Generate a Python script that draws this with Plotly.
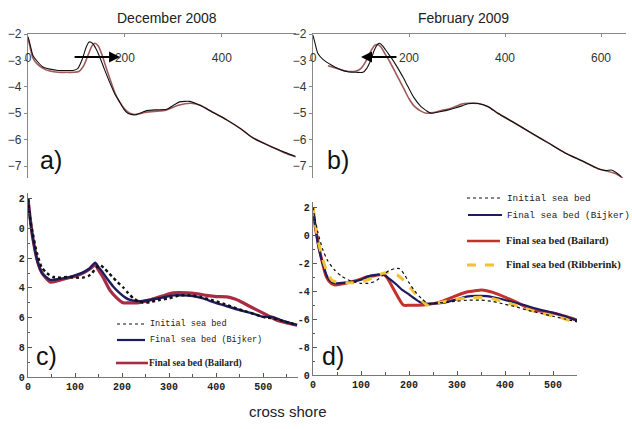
import plotly.graph_objects as go

W, H = 632, 429

# ---------------- data ----------------
# Panel a (December 2008) - measured profiles
a_black_x = [0, 5, 10, 20, 31, 45, 62, 80, 93, 103, 112, 120, 126, 133, 140, 148, 158, 169, 180, 190, 198, 206, 215, 224, 235, 245, 265, 286, 300, 313, 334, 355, 380, 410, 440, 464, 500, 530, 551]
a_black_y = [-2.1, -2.45, -2.8, -3.05, -3.25, -3.33, -3.38, -3.38, -3.38, -3.3, -2.95, -2.5, -2.3, -2.35, -2.55, -2.87, -3.35, -3.85, -4.3, -4.6, -4.85, -5.0, -5.05, -5.05, -4.97, -4.9, -4.87, -4.85, -4.7, -4.57, -4.55, -4.7, -4.95, -5.25, -5.6, -5.93, -6.25, -6.48, -6.63]
a_red_x = [0, 5, 10, 20, 31, 45, 62, 80, 95, 105, 115, 125, 132, 138, 145, 152, 160, 170, 180, 190, 200, 210, 220, 230, 240, 260, 285, 310, 335, 355, 380, 410, 440, 464, 500, 530, 553]
a_red_y = [-2.15, -2.55, -2.9, -3.15, -3.3, -3.4, -3.45, -3.45, -3.45, -3.42, -3.2, -2.75, -2.45, -2.35, -2.45, -2.75, -3.2, -3.75, -4.25, -4.6, -4.85, -5.0, -5.05, -5.02, -4.97, -4.93, -4.88, -4.7, -4.62, -4.7, -4.95, -5.25, -5.6, -5.93, -6.25, -6.5, -6.65]

# Panel b (February 2009)
b_black_x = [0, 5, 10, 20, 38, 55, 73, 90, 104, 112, 120, 128, 134, 139, 145, 155, 165, 177, 188, 198, 210, 225, 236, 246, 256, 267, 280, 296, 310, 323, 344, 365, 385, 420, 455, 490, 525, 560, 594, 610, 621, 632, 642]
b_black_y = [-2.05, -2.4, -2.73, -2.95, -3.17, -3.33, -3.43, -3.45, -3.45, -3.3, -3.0, -2.6, -2.4, -2.35, -2.45, -2.7, -2.95, -3.3, -3.65, -4.0, -4.4, -4.75, -4.9, -5.0, -4.97, -4.93, -4.88, -4.8, -4.72, -4.64, -4.63, -4.75, -5.0, -5.37, -5.75, -6.12, -6.5, -6.8, -7.1, -7.17, -7.15, -7.25, -7.4]
b_red_x = [31, 45, 60, 75, 90, 100, 108, 115, 122, 129, 135, 142, 150, 160, 170, 180, 190, 200, 212, 225, 236, 246, 256, 267, 280, 296, 310, 323, 344, 365, 385, 420, 455, 490, 525, 560, 594, 615, 632, 645]
b_red_y = [-3.2, -3.28, -3.36, -3.42, -3.4, -3.3, -3.1, -2.85, -2.6, -2.42, -2.4, -2.5, -2.75, -3.05, -3.4, -3.75, -4.1, -4.45, -4.75, -4.92, -5.0, -4.98, -4.95, -4.9, -4.85, -4.75, -4.65, -4.62, -4.63, -4.75, -5.0, -5.37, -5.75, -6.12, -6.5, -6.8, -7.1, -7.2, -7.3, -7.45]

# Panel c (December 2008 model)
c_init_x = [0, 5, 10, 19, 29, 40, 54, 70, 83, 100, 117, 128, 136, 145, 153, 163, 172, 181, 190, 202, 213, 224, 235, 245, 260, 281, 300, 323, 345, 366, 390, 415, 437, 460, 480, 500, 520, 545, 572]
c_init_y = [2.0, 0.6, -0.3, -1.65, -2.6, -3.0, -3.26, -3.3, -3.26, -3.3, -3.3, -3.2, -3.0, -2.65, -2.45, -2.7, -3.0, -3.3, -3.6, -3.95, -4.35, -4.7, -4.9, -5.0, -4.95, -4.8, -4.7, -4.5, -4.5, -4.6, -4.8, -5.05, -5.3, -5.55, -5.75, -5.95, -6.05, -6.25, -6.5]
c_bijker_x = [0, 5, 10, 20, 30, 47, 65, 83, 100, 117, 130, 143, 150, 160, 170, 181, 195, 207, 217, 236, 260, 285, 309, 330, 350, 372, 394, 420, 451, 475, 500, 520, 540, 572]
c_bijker_y = [2.0, 0.5, -0.6, -2.2, -3.0, -3.45, -3.4, -3.3, -3.15, -2.95, -2.7, -2.3, -2.6, -3.0, -3.45, -3.9, -4.35, -4.65, -4.8, -4.9, -4.8, -4.65, -4.5, -4.5, -4.55, -4.7, -4.95, -5.2, -5.5, -5.7, -5.95, -5.95, -6.2, -6.5]
c_bailard_x = [0, 5, 10, 21, 30, 47, 65, 83, 100, 117, 130, 143, 150, 160, 174, 188, 202, 215, 231, 260, 285, 309, 338, 360, 380, 400, 423, 440, 451, 475, 500, 515, 529, 550, 572]
c_bailard_y = [2.0, 0.6, -0.6, -2.3, -3.0, -3.6, -3.5, -3.34, -3.2, -3.0, -2.75, -2.45, -2.8, -3.3, -4.15, -4.65, -5.0, -5.0, -5.0, -4.8, -4.55, -4.33, -4.33, -4.4, -4.5, -4.58, -4.6, -4.75, -4.9, -5.3, -5.7, -5.95, -6.17, -6.35, -6.5]

# Panel d (February 2009 model)
d_init_x = [0, 5, 10, 20, 30, 45, 60, 80, 100, 115, 130, 145, 158, 170, 180, 190, 200, 212, 225, 240, 260, 280, 300, 325, 350, 375, 400, 425, 450, 475, 500, 525, 550]
d_init_y = [2.0, 1.0, 0.2, -1.0, -1.8, -2.5, -2.95, -3.3, -3.45, -3.45, -3.3, -2.9, -2.55, -2.4, -2.4, -2.8, -3.4, -4.0, -4.5, -4.9, -4.85, -4.8, -4.72, -4.65, -4.65, -4.75, -4.95, -5.15, -5.4, -5.6, -5.8, -6.0, -6.2]
d_bijker_x = [0, 5, 10, 20, 30, 40, 50, 65, 80, 100, 115, 130, 146, 160, 175, 185, 196, 210, 223, 243, 270, 300, 320, 340, 362, 390, 417, 440, 458, 480, 500, 525, 550]
d_bijker_y = [2.0, 0.6, -0.6, -2.0, -3.0, -3.4, -3.45, -3.4, -3.35, -3.2, -2.95, -2.85, -2.8, -3.15, -3.57, -3.9, -4.15, -4.5, -4.8, -4.9, -4.85, -4.6, -4.4, -4.35, -4.36, -4.55, -4.8, -5.0, -5.2, -5.4, -5.55, -5.8, -6.1]
d_bailard_x = [0, 5, 10, 15, 28, 38, 46, 60, 77, 95, 112, 130, 146, 152, 157, 170, 188, 200, 229, 250, 264, 290, 320, 340, 351, 375, 404, 430, 458, 480, 500, 525, 550]
d_bailard_y = [2.0, 0.5, -0.4, -1.3, -3.0, -3.45, -3.57, -3.5, -3.36, -3.2, -3.0, -2.9, -2.8, -2.95, -3.2, -4.0, -5.0, -5.02, -5.0, -4.9, -4.79, -4.45, -4.07, -3.97, -3.93, -4.1, -4.5, -4.9, -5.36, -5.45, -5.57, -5.8, -6.07]
d_ribb_x = [0, 5, 10, 20, 30, 40, 55, 70, 90, 110, 130, 145, 160, 175, 188, 202, 216, 230, 237, 260, 290, 320, 350, 375, 400, 430, 460, 490, 520, 550]
d_ribb_y = [2.0, 0.8, -0.3, -1.7, -2.7, -3.25, -3.4, -3.4, -3.4, -3.25, -3.0, -2.75, -2.65, -2.85, -3.2, -3.75, -4.3, -4.8, -5.0, -4.85, -4.65, -4.5, -4.45, -4.55, -4.8, -5.1, -5.45, -5.7, -5.95, -6.3]

# tick labels
ab_y_ticks = [-2, -3, -4, -5, -6, -7]
a_x_ticks = [0, 200, 400]
b_x_ticks = [0, 200, 400, 600]
cd_y_vals = [2, 0, -2, -4, -6, -8, -10]
c_y_text = ["2", "0", "2", "4", "6", "8", "0"]
d_y_text = ["2", "0", "-2", "-4", "-6", "-8", "0"]
cd_x_ticks = [0, 100, 200, 300, 400, 500]

legend_c = ["Initial sea bed", "Final sea bed (Bijker)", "Final sea bed (Bailard)"]
legend_d = ["Initial sea bed", "Final sea bed (Bijker)", "Final sea bed (Bailard)", "Final sea bed (Ribberink)"]

# ---------------- styles ----------------
BLACK = "#111111"
PINK = "#a05a5a"
NAVY = "#1c1c5e"
RED_C = "#a82c44"
RED_D = "#c4302c"
YEL = "#f2c234"


def px(x):
    return x / W


def py(y):
    return 1 - y / H


fig = go.Figure()


def add(x, y, xa, ya, color, width, dash="solid"):
    fig.add_trace(go.Scatter(x=x, y=y, xaxis=xa, yaxis=ya, mode="lines",
                             line=dict(color=color, width=width, dash=dash, shape="spline", smoothing=0.6),
                             showlegend=False, hoverinfo="skip"))


add(a_red_x, a_red_y, "x", "y", PINK, 1.6)
add(a_black_x, a_black_y, "x", "y", BLACK, 1.1)
add(b_red_x, b_red_y, "x2", "y2", PINK, 1.6)
add(b_black_x, b_black_y, "x2", "y2", BLACK, 1.1)

add(c_bailard_x, c_bailard_y, "x3", "y3", RED_C, 3.2)
add(c_bijker_x, c_bijker_y, "x3", "y3", NAVY, 2.4)
add(c_init_x, c_init_y, "x3", "y3", BLACK, 2.4, "dot")

add(d_bailard_x, d_bailard_y, "x4", "y4", RED_D, 3.0)
add(d_bijker_x, d_bijker_y, "x4", "y4", NAVY, 2.2)
add(d_ribb_x, d_ribb_y, "x4", "y4", YEL, 3.0, "dash")
add(d_init_x, d_init_y, "x4", "y4", BLACK, 1.2, "dot")

# empty traces so the label-only overlay axes get drawn
fig.add_trace(go.Scatter(x=[None], y=[None], xaxis="x5", yaxis="y", showlegend=False, hoverinfo="skip"))
fig.add_trace(go.Scatter(x=[None], y=[None], xaxis="x6", yaxis="y2", showlegend=False, hoverinfo="skip"))

AXC = "#888888"
tf_ab = dict(family="Arial, Liberation Sans, sans-serif", size=12, color="#333333")
tf_cd = dict(family="Liberation Mono, DejaVu Sans Mono, monospace", size=10, color="#222222", weight="bold")

top_x = dict(side="top", showline=True, linecolor=AXC, linewidth=1.3, ticks="inside", ticklen=3,
             tickcolor=AXC, showticklabels=False, showgrid=False, zeroline=False, automargin=False)
lab_x = dict(side="bottom", showline=False, ticks="", showgrid=False, zeroline=False,
             tickfont=tf_ab, automargin=False, anchor="free", position=py(49))
ab_y = dict(showline=True, linecolor=AXC, linewidth=1.3, ticks="outside", ticklen=3, tickcolor=AXC,
            tickvals=ab_y_ticks, range=[-7.45, -2], showgrid=False, zeroline=False, tickfont=tf_ab,
            automargin=False)

cd_x = dict(showline=True, linecolor="#777777", linewidth=1.3, ticks="inside", ticklen=4, tickcolor="#555555",
            tickvals=cd_x_ticks, minor=dict(dtick=50, tick0=0, ticks="inside", ticklen=3, tickcolor="#555555"),
            showgrid=False, zeroline=False, tickfont=tf_cd, automargin=False)
cd_y = dict(showline=True, linecolor="#777777", linewidth=1.3, ticks="inside", ticklen=4, tickcolor="#555555",
            tickvals=cd_y_vals, minor=dict(dtick=1, tick0=0, ticks="inside", ticklen=2, tickcolor="#555555"),
            showgrid=False, zeroline=False, tickfont=tf_cd, automargin=False)

fig.update_layout(
    width=W, height=H, autosize=False,
    margin=dict(l=0, r=0, t=0, b=0, pad=0),
    paper_bgcolor="white", plot_bgcolor="white",
    xaxis=dict(top_x, domain=[px(28), px(296)], range=[0, 553], tickvals=a_x_ticks, anchor="y"),
    xaxis5=dict(lab_x, domain=[px(28), px(296)], range=[0, 553], tickvals=a_x_ticks, overlaying="x"),
    yaxis=dict(ab_y, domain=[py(178), py(34)], anchor="x"),
    xaxis2=dict(top_x, domain=[px(313), px(626)], range=[0, 652], tickvals=b_x_ticks, anchor="y2"),
    xaxis6=dict(lab_x, domain=[px(313), px(626)], range=[0, 652], tickvals=b_x_ticks, overlaying="x2"),
    yaxis2=dict(ab_y, domain=[py(178), py(34)], anchor="x2"),
    xaxis3=dict(cd_x, domain=[px(28), px(298)], range=[0, 574], anchor="y3"),
    yaxis3=dict(cd_y, domain=[py(377), py(193)], range=[-10, 2.4], ticktext=c_y_text, anchor="x3"),
    xaxis4=dict(cd_x, domain=[px(313), px(577)], range=[0, 550], anchor="y4"),
    yaxis4=dict(cd_y, domain=[py(375), py(202)], range=[-10, 2.36], ticktext=d_y_text, anchor="x4"),
)

ann = []


def text_at(t, x, y, font, xanchor="center"):
    ann.append(dict(text=t, x=px(x), y=py(y), xref="paper", yref="paper", xanchor=xanchor,
                    yanchor="middle", showarrow=False, font=font))


title_font = dict(family="Arial, Liberation Sans, sans-serif", size=14, color="#222222")
text_at("December 2008", 167, 18, title_font)
text_at("February 2009", 463, 18, title_font)
text_at("cross shore", 288, 411, dict(family="Arial, Liberation Sans, sans-serif", size=15, color="#222222"))

lab_font = dict(family="Arial, Liberation Sans, sans-serif", size=25, color="#111111")
for t, x, y in [("a)", 51, 160), ("b)", 338, 160), ("c)", 46, 356), ("d)", 333, 356)]:
    text_at(t, x, y, lab_font)

# arrows indicating bar migration
ann.append(dict(x=190, y=-2.87, ax=93, ay=-2.87, xref="x", yref="y", axref="x", ayref="y",
                showarrow=True, arrowhead=2, arrowsize=1.1, arrowwidth=2, arrowcolor="#000000", text=""))
ann.append(dict(x=100, y=-2.87, ax=177, ay=-2.87, xref="x2", yref="y2", axref="x2", ayref="y2",
                showarrow=True, arrowhead=2, arrowsize=1.1, arrowwidth=2, arrowcolor="#000000", text=""))

mono = "Liberation Mono, DejaVu Sans Mono, monospace"
serif = "Liberation Serif, Times New Roman, serif"

shapes = []


def leg_line(x0, x1, y, color, width, dash="solid"):
    shapes.append(dict(type="line", xref="paper", yref="paper", x0=px(x0), x1=px(x1), y0=py(y), y1=py(y),
                       line=dict(color=color, width=width, dash=dash)))


def leg_text(t, x, y, fam, size, bold=False):
    text_at(t, x, y, dict(family=fam, size=size, color="#222222", weight="bold" if bold else "normal"),
            xanchor="left")


# legend c
leg_line(117, 146, 324, BLACK, 1, "dot")
leg_text(legend_c[0], 148, 324, mono, 8.5)
leg_line(117, 145, 340, NAVY, 2.2)
leg_text(legend_c[1], 148, 340, mono, 8.5)
leg_line(116, 148, 363, RED_C, 2.6)
leg_text(legend_c[2], 147, 363, serif, 9.5, True)

# legend d
leg_line(467, 502, 198, BLACK, 1, "dot")
leg_text(legend_d[0], 505, 198, mono, 9.3)
leg_line(468, 502, 215, NAVY, 2.2)
leg_text(legend_d[1], 505, 215, mono, 9.3)
leg_line(467, 500, 241, RED_D, 2.4)
leg_text(legend_d[2], 504, 241, serif, 10.5, True)
leg_line(467, 502, 265, YEL, 3, "dash")
leg_text(legend_d[3], 504, 265, serif, 10.5, True)

fig.update_layout(annotations=ann, shapes=shapes)

fig.write_html("out.html", config={"displayModeBar": False},
               post_script="document.body.style.margin='0px';")
